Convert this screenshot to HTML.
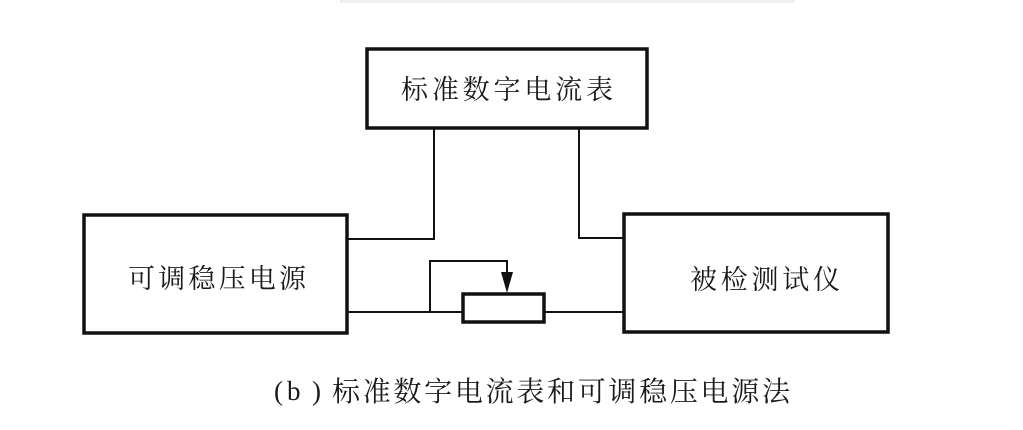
<!DOCTYPE html>
<html><head><meta charset="utf-8"><style>
body{margin:0;background:#fff;}
svg{display:block;}
text{font-family:"Liberation Serif","Noto Serif CJK SC","Noto Sans CJK SC",serif;fill:#1a1a1a;}
</style></head><body>
<svg width="1023" height="430" viewBox="0 0 1023 430" xmlns="http://www.w3.org/2000/svg">
<rect x="0" y="0" width="1023" height="430" fill="#fff"/>
<rect x="340" y="0" width="455" height="3" fill="#f0f0f0"/>
<g fill="none" stroke="#111">
<rect x="367" y="49" width="280" height="79" stroke-width="3.5"/>
<rect x="84" y="215" width="263" height="118" stroke-width="3.5"/>
<rect x="624" y="214" width="264" height="118" stroke-width="3.5"/>
<rect x="463" y="294" width="81" height="28" stroke-width="3.5"/>
<g stroke-width="2">
<polyline points="434,128 434,239 347,239"/>
<polyline points="579,128 579,238 624,238"/>
<line x1="347" y1="312" x2="463" y2="312"/>
<line x1="544" y1="312" x2="624" y2="312"/>
<polyline points="430,312 430,261 507,261 507,280"/>
</g>
</g>
<polygon points="501,272 513,272 507,293" fill="#111"/>
<text x="507" y="99" font-size="27" text-anchor="middle" textLength="212" lengthAdjust="spacing">标准数字电流表</text>
<text x="217" y="288" font-size="27" text-anchor="middle" textLength="178" lengthAdjust="spacing">可调稳压电源</text>
<text x="765" y="289" font-size="27" text-anchor="middle" textLength="150" lengthAdjust="spacing">被检测试仪</text>
<text x="274" y="400" font-size="27">(</text>
<text x="287" y="400" font-size="27">b</text>
<text x="312" y="400" font-size="27">)</text>
<text x="332" y="401" font-size="28" textLength="458" lengthAdjust="spacing">标准数字电流表和可调稳压电源法</text>
</svg>
</body></html>
